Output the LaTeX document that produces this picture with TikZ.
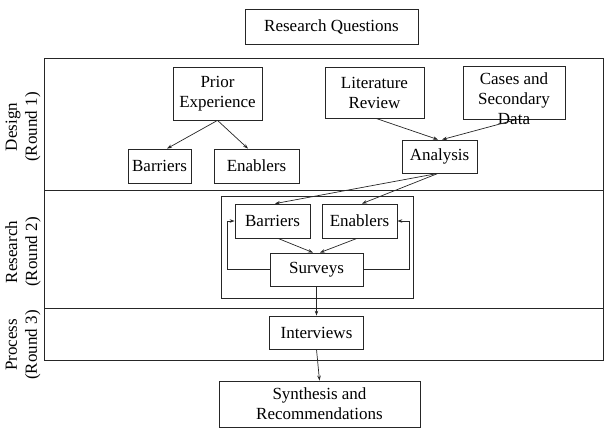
\documentclass[tikz,border=0pt]{standalone}
\usepackage{fontspec}
\setmainfont{Liberation Serif}
\usetikzlibrary{arrows.meta,calc}
\begin{document}
\begin{tikzpicture}[x=1pt,y=-1pt,
  every node/.style={font=\fontsize{17}{20}\selectfont},
  box/.style={draw=black!85,line width=0.8pt,inner sep=0pt,align=center},
  frameline/.style={draw=black!85,line width=1pt},
  conn/.style={draw=black!85,line width=0.7pt,-{Stealth[length=5pt,width=3.5pt]}},
  rowlabel/.style={rotate=90,align=center,inner sep=0pt}]
\useasboundingbox (0,0) rectangle (606,443);
% outer frame and rows
\draw[frameline] (44,59) rectangle (603,361);
\draw[frameline] (44,191) -- (603,191);
\draw[frameline] (44,309) -- (603,309);
\node[rowlabel] (lab1) at (23,127) {Design\\(Round 1)};
\node[rowlabel] (lab2) at (23,252) {Research\\(Round 2)};
\node[rowlabel] (lab3) at (23,345) {Process\\(Round 3)};
% inner research frame
\draw[draw=black!85,line width=0.8pt] (221,196) rectangle (413,298);
% nodes
\node[box,minimum width=173pt,minimum height=35pt] (rq) at (331.5,26.5) {Research Questions};
\node[box,minimum width=89pt,minimum height=53pt] (prior) at (217.5,93.5) {Prior\\Experience};
\node[box,minimum width=63pt,minimum height=34pt] (bar1) at (159.5,166) {Barriers};
\node[box,minimum width=85pt,minimum height=34pt] (ena1) at (256.5,166) {Enablers};
\node[box,minimum width=99pt,minimum height=51pt] (lit) at (374.5,92.5) {Literature\\Review};
\node[box,minimum width=102pt,minimum height=53pt] (cases) at (514,92.5) {};
\node[align=center,inner sep=0pt] (casestxt) at (514,99) {Cases and\\Secondary\\Data};
\node[box,minimum width=75pt,minimum height=33pt] (ana) at (439.5,156.5) {Analysis};
\node[box,minimum width=75pt,minimum height=34pt] (bar2) at (272.5,221) {Barriers};
\node[box,minimum width=75pt,minimum height=34pt] (ena2) at (359.5,221) {Enablers};
\node[box,minimum width=93pt,minimum height=33pt] (sur) at (316.5,269.5) {Surveys};
\node[box,minimum width=94pt,minimum height=33pt] (int) at (316.5,332.5) {Interviews};
\node[box,minimum width=201pt,minimum height=46pt] (syn) at (319.5,404) {Synthesis and\\Recommendations};
% connectors
\draw[conn] (prior.south) -- ([xshift=7.5pt]bar1.north);
\draw[conn] (prior.south) -- ([xshift=-8.5pt]ena1.north);
\draw[conn] ([xshift=1.5pt]lit.south) -- ([xshift=-1.5pt]ana.north);
\draw[conn] ([xshift=3pt]cases.south) -- ([xshift=2.5pt]ana.north);
\draw[conn] ([xshift=-1.5pt]ana.south) -- ([xshift=2.5pt]bar2.north);
\draw[conn] ([xshift=-1.5pt]ana.south) -- ([xshift=2.5pt]ena2.north);
\draw[conn] ([xshift=5.5pt]bar2.south) -- ([xshift=-3.5pt]sur.north);
\draw[conn] ([xshift=-2.5pt]ena2.south) -- ([xshift=3.5pt]sur.north);
\draw[conn] (sur.west) -| (227,221) -- (bar2.west);
\draw[conn] (sur.east) -| (409,221) -- (ena2.east);
\draw[conn] (sur.south) -- (int.north);
\draw[conn] (int.south) -- (syn.north);
\end{tikzpicture}
\end{document}
